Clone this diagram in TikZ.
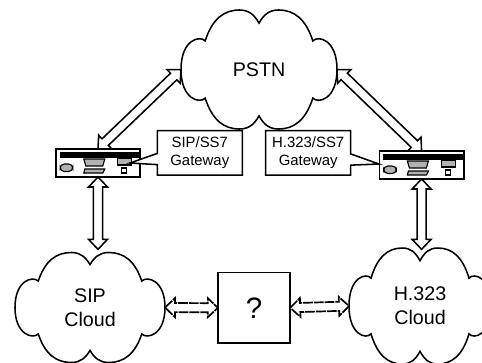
\documentclass[tikz,border=0pt]{standalone}
\usepackage{fontspec}
\setmainfont{Liberation Sans}
\usetikzlibrary{calc,shapes.callouts}

\newcommand{\cloudline}[3]{
\draw[line width=1.1,shift={(#1.center)},xscale=#2,yscale=#3]
	(0,.78) .. controls (.06,.92) and (.13,1) .. (.25,1)
	.. controls (.45,1) and (.6,.85) .. (.69,.48)
	.. controls (.76,.58) and (1,.5) .. (1,0)
	.. controls (1,-.5) and (.76,-.58) .. (.69,-.48)
	.. controls (.6,-.85) and (.45,-1) .. (.25,-1)
	.. controls (.13,-1) and (.06,-.92) .. (0,-.78)
	.. controls (-.06,-.92) and (-.13,-1) .. (-.25,-1)
	.. controls (-.45,-1) and (-.6,-.85) .. (-.69,-.48)
	.. controls (-.76,-.58) and (-1,-.5) .. (-1,0)
	.. controls (-1,.5) and (-.76,.58) .. (-.69,.48)
	.. controls (-.6,.85) and (-.45,1) .. (-.25,1)
	.. controls (-.13,1) and (-.06,.92) .. (0,.78) -- cycle;
}

\newcommand{\gatewayparts}[1]{
\begin{scope}[shift={(#1.north west)},x=.025cm,y=-.025cm,line width=.8]
\fill (3.7,3) rectangle (84.3,8.5);
\draw[fill=gray!60] (28,10) -- (49,10) -- (47,17) -- (30,17) -- cycle;
\draw[fill=gray!60] (29,20) -- (49,20) -- (47,24) -- (28,24) -- cycle;
\draw[fill=gray!60] (62,9.5) rectangle (76,16);
\draw (66,19) rectangle (71,24);
\draw[fill=gray!60,rounded corners=3] (4.3,15) rectangle (17,22.5);
\end{scope}
}

\begin{document}
\begin{tikzpicture}
[
	cloudtext/.style={inner sep=0,outer sep=0,align=center,font=\fontsize{14}{16.8}\selectfont},
	gwbox/.style={rectangle,draw,line width=1.1,inner sep=0,outer sep=0,minimum height=.7cm,minimum width=2.11cm},
	gwlabel/.style={rectangle callout,draw,fill=white,line width=1.1,inner sep=0,outer sep=0,minimum height=1.11cm,minimum width=2.125cm,align=center,callout pointer width=.28cm,font=\fontsize{10.6}{13}\selectfont},
	blockarrow/.style={line width=1.1,fill=white,to path={
		let \p1=($(\tikztotarget)-(\tikztostart)$),\n1={atan2(\y1,\x1)},\n2={veclen(\x1,\y1)} in
		(\tikztostart) -- ++(\n1+43.5:9.8pt) -- ++(\n1-90:3.5pt) -- ++(\n1:\n2-14.2pt)
		-- ++(\n1+90:3.5pt) -- ++(\n1-43.5:9.8pt) -- ++(\n1+223.5:9.8pt) -- ++(\n1+90:3.5pt)
		-- ++(\n1+180:\n2-14.2pt) -- ++(\n1-90:3.5pt) -- cycle}},
	dasharrow/.style={blockarrow,line width=1.2,dash pattern=on 7pt off .7pt}
]
\useasboundingbox (0,0) rectangle (12.05,9.05);

\node[cloudtext,minimum width=3.9cm,minimum height=2.975cm] (pstn) at (6.475,7.3125) {PSTN};
\node[cloudtext,minimum width=3.75cm,minimum height=2.75cm] (sip) at (2.25,1.3625) {SIP\\Cloud};
\node[cloudtext,minimum width=3.55cm,minimum height=2.9cm] (h323) at (10.5,1.4) {H.323\\Cloud};

\cloudline{pstn}{1.95}{1.4875}
\cloudline{sip}{1.875}{1.375}
\cloudline{h323}{1.775}{1.45}

\node[rectangle,draw,line width=1.1,inner sep=0,outer sep=0,minimum height=1.76cm,minimum width=1.81cm,font=\fontsize{21}{25}\selectfont] (query) at (6.35,1.355) {?};

\node[gwbox] (sipgw) at (2.45,4.975) {};
\node[gwbox] (h323gw) at (10.54,4.925) {};
\gatewayparts{sipgw}
\gatewayparts{h323gw}

\node[gwlabel,callout absolute pointer={(3.25,4.975)}] (siplabel) at (4.995,5.229) {SIP/SS7\\Gateway};
\node[gwlabel,callout absolute pointer={(9.475,4.95)}] (h323label) at (7.705,5.229) {H.323/SS7\\Gateway};

\coordinate (sipin) at (2.45,2.8175);
\coordinate (h323in) at (10.54,2.8175);

\draw[blockarrow] (sipgw.north) to (pstn.west);
\draw[blockarrow] (h323gw.north) to (pstn.east);
\draw[blockarrow] (sipgw.south) to (sipin);
\draw[blockarrow] (h323gw.south) to (h323in);
\draw[dasharrow] (sip.east) to (query.west);
\draw[dasharrow] (query.east) to (h323.west);

\end{tikzpicture}
\end{document}
